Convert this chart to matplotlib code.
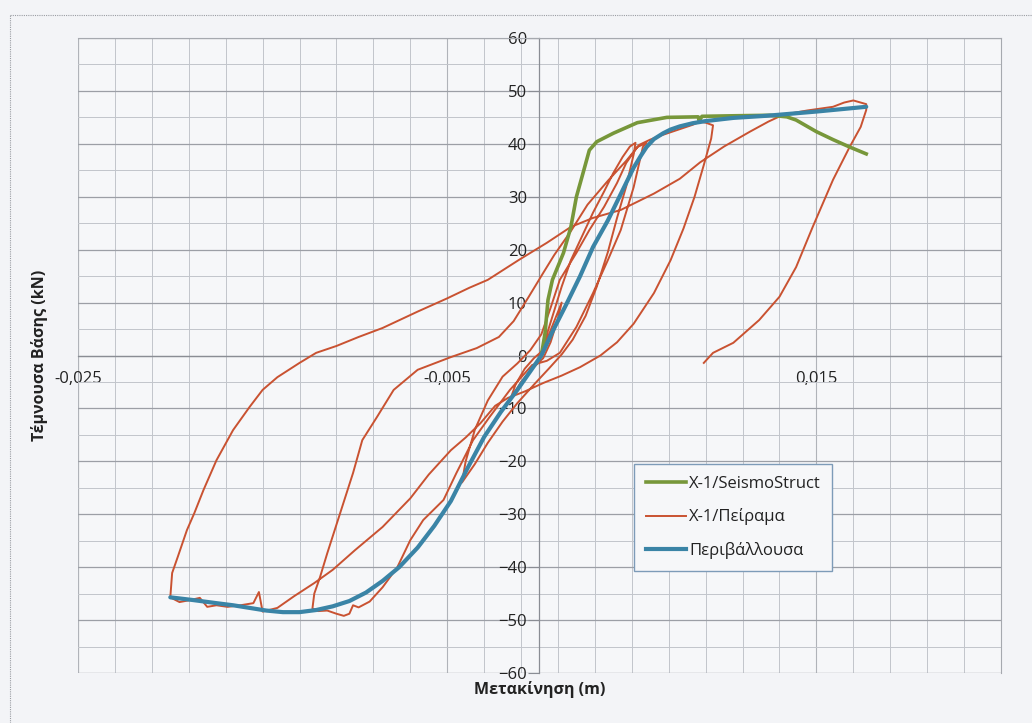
import matplotlib
matplotlib.use("Agg")
import matplotlib.pyplot as plt
from matplotlib.lines import Line2D
import numpy as np

plt.rcParams['font.family'] = ['Open Sans', 'DejaVu Sans']

# ---------------- data ----------------
seismo_x = [0.0001, 0.0003, 0.00046, 0.0007, 0.0013, 0.0017, 0.0020, 0.0024, 0.0027, 0.0031,
            0.0040, 0.0053, 0.0069, 0.0086, 0.00865, 0.0088, 0.0105, 0.0125, 0.0134, 0.0139,
            0.0150, 0.0159, 0.0168, 0.0177]
seismo_y = [0.0, 4.2, 10.5, 14.3, 19.4, 24.3, 30.0, 35.0, 38.8, 40.4,
            42.0, 44.0, 45.0, 45.1, 44.3, 45.2, 45.3, 45.4, 45.1, 44.5,
            42.3, 40.8, 39.4, 38.1]

env_x = [-0.0200, -0.0188, -0.0175, -0.0166, -0.0157, -0.0148, -0.0139, -0.0130, -0.0121,
         -0.0112, -0.0103, -0.0094, -0.0085, -0.0076, -0.0066, -0.0057, -0.0048,
         -0.0039, -0.0030, -0.0021, -0.0012, -0.0004, 0.0001, 0.0007, 0.0015, 0.0022, 0.0029,
         0.0037, 0.0044, 0.0051, 0.0055, 0.0058, 0.0062, 0.0067, 0.0071, 0.0076, 0.0083,
         0.0090, 0.0105, 0.0123, 0.0150, 0.0177]
env_y = [-45.7, -46.2, -46.8, -47.2, -47.7, -48.2, -48.5, -48.5, -48.1,
         -47.4, -46.4, -44.8, -42.6, -40.0, -36.3, -32.2, -27.5,
         -21.3, -15.4, -10.7, -6.5, -2.5, 0.0, 4.5, 10.0, 15.0, 20.5,
         25.5, 30.5, 35.5, 37.8, 39.4, 40.9, 42.0, 42.7, 43.3, 43.9,
         44.3, 44.9, 45.3, 46.1, 47.0]

# experimental hysteresis (one continuous loading history)
exp_x = [
    # small initial cycles
    0.0, 0.0004, 0.0008, 0.0012, 0.0010, 0.0006, 0.0002, -0.0004, -0.0010, -0.0016,
    -0.0013, -0.0008, -0.0003, 0.0002,
    # loading to ~40 kN
    0.0004, 0.0008, 0.0012, 0.0017, 0.0023, 0.0029, 0.0035, 0.0040, 0.0045, 0.0049, 0.0052,
    # unloading
    0.0051, 0.0047, 0.0042, 0.0037, 0.0031, 0.0025, 0.0018, 0.0012,
    # negative loading
    0.0005, -0.0003, -0.0012, -0.0020, -0.0028, -0.0035, -0.0042,
    # reloading
    -0.0040, -0.0035, -0.0028, -0.0020, -0.0012, -0.0005, 0.0001, 0.0006, 0.0011, 0.0020,
    0.0027, 0.0035, 0.0042, 0.0047, 0.0053, 0.0058,
    # unloading
    0.0056, 0.0051, 0.0044, 0.0037, 0.0029, 0.0020, 0.0011,
    # negative loading to envelope
    0.0004, -0.0004, -0.0016, -0.0027, -0.0036, -0.0045, -0.0052, -0.0063, -0.0070, -0.0077,
    -0.0085, -0.0092, -0.0098, -0.0101, -0.0103, -0.0106, -0.0110, -0.0115, -0.0120, -0.0123,
    # reloading
    -0.0122, -0.0119, -0.0115, -0.0108, -0.0101, -0.0096, -0.0088, -0.0079, -0.0066, -0.0048,
    -0.0034, -0.0022, -0.0014, -0.0006, 0.0002, 0.0008, 0.0017, 0.0026, 0.0037, 0.0047,
    0.0054, 0.0060, 0.0066, 0.0072, 0.0078, 0.0083, 0.0087, 0.0090,
    # unloading + soft negative loading
    0.0094, 0.0093, 0.0089, 0.0084, 0.0078, 0.0071, 0.0062, 0.0051, 0.0042, 0.0033,
    0.0022, 0.0012, 0.0002, -0.0008, -0.0017, -0.0024, -0.0032, -0.0040, -0.0048, -0.0060,
    -0.0070, -0.0085, -0.0100, -0.0112, -0.0122, -0.0133, -0.0142,
    # along envelope to max negative displacement
    -0.0150, -0.0152, -0.0155, -0.0162, -0.0169, -0.0175, -0.0180, -0.0184, -0.0189,
    -0.0195, -0.0200,
    # large reloading branch
    -0.0199, -0.0196, -0.0191, -0.0187, -0.0182, -0.0175, -0.0166, -0.0157, -0.0150, -0.0142,
    -0.0130, -0.0121, -0.0110, -0.0098, -0.0085, -0.0066, -0.0050, -0.0038, -0.0028, -0.0011,
    0.0004, 0.0017, 0.0029, 0.0044, 0.0062, 0.0076, 0.0087, 0.0100, 0.0114, 0.0124,
    0.0132, 0.0145, 0.0159, 0.0165, 0.0170, 0.0174, 0.0177,
    # final unloading
    0.0177, 0.0174, 0.0168, 0.0159, 0.0148, 0.0139, 0.0130, 0.0119, 0.0105, 0.0094, 0.0089,
]
exp_y = [
    0.0, 3.0, 6.5, 10.0, 7.0, 2.5, -0.5, -2.5, -5.0, -8.5,
    -5.5, -2.5, -0.5, 1.0,
    4.0, 8.5, 13.0, 18.0, 22.5, 27.0, 31.0, 34.5, 37.5, 39.5, 40.2,
    38.0, 32.0, 26.0, 19.5, 13.0, 7.5, 3.0, 0.2,
    -2.5, -5.5, -9.0, -12.5, -16.5, -20.5, -24.0,
    -20.0, -14.0, -8.5, -4.0, -1.5, 1.0, 4.0, 9.0, 14.3, 19.4,
    23.7, 28.1, 32.6, 36.4, 39.4, 40.2,
    39.4, 31.8, 23.7, 18.0, 11.8, 5.4, 0.5,
    -1.0, -1.8, -6.5, -11.6, -16.0, -22.2, -27.3, -31.1, -34.9, -40.0,
    -43.8, -46.5, -47.6, -47.2, -48.8, -49.2, -48.8, -48.2, -48.3, -47.8,
    -45.0, -42.0, -37.4, -29.8, -22.2, -16.0, -11.6, -6.5, -2.7, -0.3,
    1.4, 3.5, 6.5, 11.0, 15.6, 19.0, 23.5, 28.5, 33.0, 36.8,
    39.8, 40.8, 41.6, 42.3, 43.0, 43.6, 44.2, 44.0,
    43.5, 41.0, 36.0, 30.0, 24.0, 18.0, 11.8, 6.0, 2.5, 0.0,
    -2.2, -3.8, -5.2, -6.8, -8.0, -9.5, -12.8, -15.5, -17.9, -22.5,
    -27.0, -32.4, -36.8, -40.5, -43.0, -45.5, -47.7,
    -48.4, -44.7, -46.8, -47.2, -47.5, -47.2, -47.5, -45.8, -46.2,
    -46.6, -45.7,
    -41.1, -38.1, -33.0, -29.8, -25.4, -19.8, -14.1, -9.7, -6.5, -4.1,
    -1.4, 0.5, 1.8, 3.5, 5.2, 8.3, 10.8, 12.8, 14.3, 18.1,
    21.3, 24.3, 26.0, 27.5, 30.6, 33.4, 36.5, 39.5, 42.3, 44.2,
    45.5, 46.3, 47.0, 47.8, 48.2, 47.8, 47.5,
    46.4, 43.2, 39.4, 33.2, 24.3, 16.7, 11.1, 6.7, 2.4, 0.5, -1.4,
]

x_tick_vals = [-0.025, -0.005, 0.015]
x_tick_labels = ['-0,025', '-0,005', '0,015']
y_tick_vals = [-60, -50, -40, -30, -20, -10, 0, 10, 20, 30, 40, 50, 60]

labels = ['X-1/SeismoStruct', 'X-1/Πείραμα', 'Περιβάλλουσα']
col_green = '#77973a'
col_red = '#c95231'
col_blue = '#3a84a6'

# ---------------- figure ----------------
fig = plt.figure(figsize=(10.32, 7.23), dpi=100, facecolor='#f3f4f7')
ax = fig.add_axes([78/1032, 50/723, 923/1032, 635/723])
ax.set_facecolor('#f6f7f9')
ax.set_xlim(-0.025, 0.025)
ax.set_ylim(-60, 60)

# grid
ax.set_xticks(x_tick_vals)
ax.set_xticks(np.arange(-0.025, 0.0251, 0.002), minor=True)
ax.set_yticks(y_tick_vals)
ax.set_yticks(np.arange(-55, 56, 10), minor=True)
ax.grid(which='major', axis='y', color='#9c9fa6', lw=0.9)
ax.grid(which='minor', axis='y', color='#c2c5cb', lw=0.7)
ax.grid(which='minor', axis='x', color='#c2c5cb', lw=0.7)
ax.grid(which='major', axis='x', color='#b0b3b9', lw=0.8)
ax.set_axisbelow(True)

ax.set_xticklabels(x_tick_labels)
ax.tick_params(axis='x', which='both', length=0, pad=11, labelsize=12, labelcolor='#222222')
ax.tick_params(axis='y', which='major', length=8, width=0.8, color='#8a8d94', pad=1,
               labelsize=12, labelcolor='#222222')
ax.tick_params(axis='y', which='minor', length=0)

for s in ['top', 'right']:
    ax.spines[s].set_color('#a6a9af')
    ax.spines[s].set_linewidth(0.8)
ax.spines['left'].set_position(('data', 0))
ax.spines['bottom'].set_position(('data', 0))
ax.spines['left'].set_color('#8a8d94')
ax.spines['bottom'].set_color('#8a8d94')
ax.spines['left'].set_linewidth(0.9)
ax.spines['bottom'].set_linewidth(0.9)

# frame edges on left/bottom of plot area
ax.axvline(-0.025, color='#a6a9af', lw=0.8, zorder=0.5)
ax.axhline(-60, color='#a6a9af', lw=0.8, zorder=0.5)

# series
ax.plot(exp_x, exp_y, color=col_red, lw=1.4, zorder=3, solid_joinstyle='round')
ax.plot(seismo_x, seismo_y, color=col_green, lw=2.6, zorder=4, solid_joinstyle='round')
ax.plot(env_x, env_y, color=col_blue, lw=3.0, zorder=5, solid_joinstyle='round',
        solid_capstyle='round')

# axis titles
fig.text(40/1032, 1 - 355/723, 'Τέμνουσα Βάσης (kN)', rotation=90, ha='center', va='center',
         fontsize=11.5, fontweight='bold', color='#222222')
fig.text(540/1032, 1 - 690/723, 'Μετακίνηση (m)', ha='center', va='center',
         fontsize=11.5, fontweight='bold', color='#222222')

# legend
handles = [Line2D([], [], color=col_green, lw=2.6),
           Line2D([], [], color=col_red, lw=1.4),
           Line2D([], [], color=col_blue, lw=3.0)]
leg = fig.legend(handles, labels, loc='upper left',
                 bbox_to_anchor=(634/1032, 1 - 464/723), fontsize=12,
                 frameon=True, fancybox=False, framealpha=1, borderpad=0.7,
                 labelspacing=1.0, handlelength=2.4, handletextpad=0.2,
                 borderaxespad=0)
leg.get_frame().set_edgecolor('#7d9bb8')
leg.get_frame().set_facecolor('#f6f7f9')
leg.get_frame().set_linewidth(1.0)
for t in leg.get_texts():
    t.set_color('#222222')

# outer chart border (dotted)
fig.add_artist(Line2D([10/1032, 1.0], [1 - 15/723, 1 - 15/723], color='#9a9da3', lw=0.8,
                      ls=(0, (1, 1)), transform=fig.transFigure))
fig.add_artist(Line2D([10/1032, 10/1032], [0.0, 1 - 15/723], color='#9a9da3', lw=0.8,
                      ls=(0, (1, 1)), transform=fig.transFigure))

fig.savefig('out.png', dpi=100, facecolor=fig.get_facecolor())
